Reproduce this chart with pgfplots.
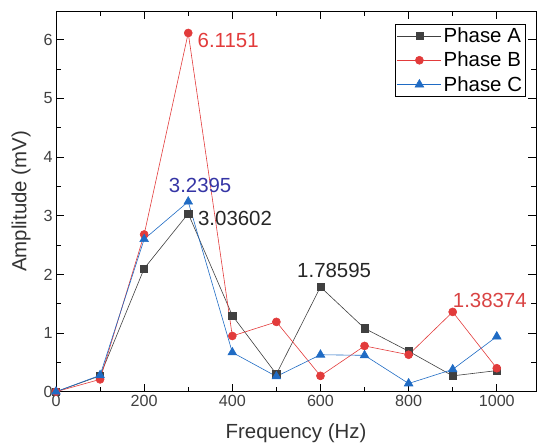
\documentclass[border=0pt]{standalone}
\usepackage{pgfplots}
\pgfplotsset{compat=1.18}
\usepackage{fontspec}
\setmainfont{Liberation Sans}

\definecolor{phA}{HTML}{404040}
\definecolor{phB}{HTML}{E23B3B}
\definecolor{phC}{HTML}{1F6BC4}
\definecolor{lblB}{HTML}{D94343}
\definecolor{lblC}{HTML}{3535A5}

\begin{document}
\begin{tikzpicture}
\begin{axis}[
  scale only axis,
  width=480bp, height=380.7bp,
  xmin=0, xmax=1089, ymin=0, ymax=6.49,
  xtick={0,200,...,1000},
  minor xtick={100,300,...,900},
  ytick={0,1,...,6},
  minor ytick={0.5,1.5,...,5.5},
  tick align=inside,
  major tick length=8bp,
  minor tick length=5bp,
  tick style={black, line width=0.8pt},
  axis line style={line width=0.9pt},
  /pgf/number format/assume math mode=true,
  /pgf/number format/1000 sep={},
  ticklabel style={font=\fontsize{16.2}{18}\selectfont, text=black!75},
  label style={font=\fontsize{20.5}{24}\selectfont, text=black!80},
  xlabel={Frequency (Hz)},
  ylabel={Amplitude (mV)},
  xlabel style={yshift=-10bp},
  ylabel style={yshift=6bp},
  legend style={at={(0.979,0.966)}, anchor=north east, draw=black, line width=0.8pt,
    font=\fontsize{20.5}{22}\selectfont, inner sep=1.5bp, row sep=4bp,
    cells={anchor=west}},
  legend image code/.code={\draw[mark repeat=2, mark phase=2] plot coordinates {(0bp,0bp) (22bp,0bp) (44bp,0bp)};},
  every axis plot/.append style={line width=0.6pt},
]
\addplot[phA, mark=square*, mark size=3.6bp, mark options={fill=phA}] coordinates {
  (0,0) (100,0.27) (200,2.10) (300,3.03602) (400,1.30) (500,0.30)
  (600,1.78595) (700,1.08) (800,0.69) (900,0.27) (1000,0.36)
};
\addplot[phB, mark=*, mark size=4bp, mark options={fill=phB}] coordinates {
  (0,0) (100,0.21) (200,2.68) (300,6.1151) (400,0.95) (500,1.19)
  (600,0.27) (700,0.78) (800,0.63) (900,1.36) (1000,0.40)
};
\addplot[phC, mark=triangle*, mark size=5bp, mark options={fill=phC}] coordinates {
  (0,0) (100,0.28) (200,2.60) (300,3.2395) (400,0.67) (500,0.26)
  (600,0.63) (700,0.62) (800,0.14) (900,0.38) (1000,0.94)
};
\legend{Phase A, Phase B, Phase C}
\node[anchor=west, text=phB, font=\fontsize{20.5}{24}\selectfont, inner sep=0pt] at (axis cs:321,5.99) {6.1151};
\node[text=lblC, font=\fontsize{20.5}{24}\selectfont, inner sep=0pt] at (axis cs:327,3.52) {3.2395};
\node[anchor=west, text=black!85, font=\fontsize{20.5}{24}\selectfont, inner sep=0pt] at (axis cs:322,2.96) {3.03602};
\node[text=black!85, font=\fontsize{20.5}{24}\selectfont, inner sep=0pt] at (axis cs:631,2.07) {1.78595};
\node[anchor=west, text=lblB, font=\fontsize{20.5}{24}\selectfont, inner sep=0pt] at (axis cs:900,1.56) {1.38374};
\coordinate (sw) at (rel axis cs:0,0);
\end{axis}
\pgfresetboundingbox
\path[use as bounding box] ([xshift=-56bp,yshift=-53.3bp]sw) rectangle ([xshift=481bp,yshift=391.7bp]sw);
\end{tikzpicture}
\end{document}
